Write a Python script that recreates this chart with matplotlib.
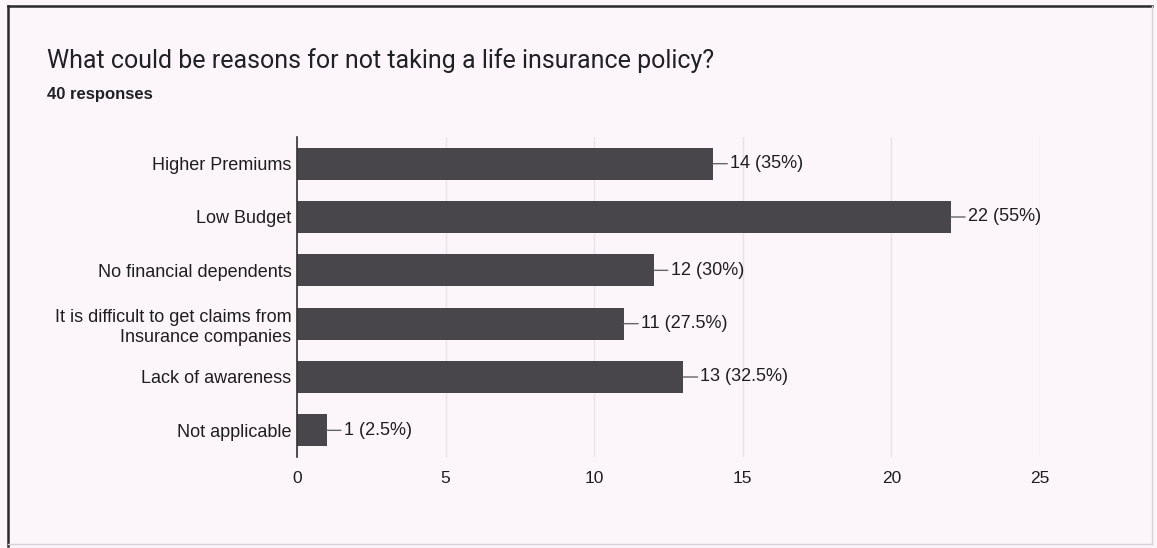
import matplotlib.pyplot as plt
import numpy as np

# data
categories = [
    "Higher Premiums",
    "Low Budget",
    "No financial dependents",
    "It is difficult to get claims from\nInsurance companies",
    "Lack of awareness",
    "Not applicable",
]
counts = [14, 22, 12, 11, 13, 1]
percents = ["35%", "55%", "30%", "27.5%", "32.5%", "2.5%"]
x_ticks = [0, 5, 10, 15, 20, 25]

title = "What could be reasons for not taking a life insurance policy?"
subtitle = "40 responses"

bg = "#fcf6fb"
bar_color = "#48464b"
text_color = "#1e1e1e"
W, H = 1157, 548

fig = plt.figure(figsize=(W / 100, H / 100), dpi=100, facecolor=bg)

# outer card border: dark top/left, faint right/bottom (scan)
fig.add_artist(plt.Line2D([8 / W, 1152 / W], [1 - 6 / H, 1 - 6 / H],
                          transform=fig.transFigure, color="#2a2a2a", lw=1.8))
fig.add_artist(plt.Line2D([8 / W, 8 / W], [1 - 6 / H, 1 - 546 / H],
                          transform=fig.transFigure, color="#2a2a2a", lw=1.8))
fig.add_artist(plt.Line2D([1152 / W, 1152 / W], [1 - 6 / H, 1 - 544 / H],
                          transform=fig.transFigure, color="#d8d2d8", lw=1))
fig.add_artist(plt.Line2D([8 / W, 1152 / W], [1 - 544 / H, 1 - 544 / H],
                          transform=fig.transFigure, color="#d8d2d8", lw=1))

ax = fig.add_axes([297 / W, 1 - 457 / H, 743 / W, 320 / H])
ax.set_facecolor(bg)

y = np.arange(len(categories))
ax.barh(y, counts, height=0.6, color=bar_color, zorder=3)

for yi, c, p in zip(y, counts, percents):
    ax.annotate(f"{c} ({p})", xy=(c, yi), xytext=(17, 0),
                textcoords="offset pixels", ha="left", va="center",
                fontsize=13, color=text_color, family="Liberation Sans",
                arrowprops=dict(arrowstyle="-", color="#666666", lw=1,
                                shrinkA=0, shrinkB=0))

ax.set_ylim(len(categories) - 0.5, -0.5)
ax.set_xlim(0, 25)
ax.set_yticks(y)
ax.set_yticklabels(categories, fontsize=13, color=text_color,
                   family="Liberation Sans", linespacing=1.25)
ax.set_xticks(x_ticks)
ax.set_xticklabels([str(t) for t in x_ticks], fontsize=12.5,
                   color=text_color, family="Liberation Sans")
ax.tick_params(axis="both", length=0)
ax.tick_params(axis="y", pad=4)
ax.tick_params(axis="x", pad=10)

ax.grid(axis="x", color="#e8e2e8", linewidth=1, zorder=0)
for s in ["top", "right", "bottom"]:
    ax.spines[s].set_visible(False)
ax.spines["left"].set_color("#333333")
ax.spines["left"].set_linewidth(1.2)
ax.spines["left"].set_zorder(4)

fig.text(47 / W, 1 - 68 / H, title, fontsize=18, color="#202124",
         family="Roboto", ha="left", va="baseline")
fig.text(47 / W, 1 - 99 / H, subtitle, fontsize=12, color="#202124",
         family="Liberation Sans", fontweight="bold", ha="left",
         va="baseline")

fig.savefig("out.png", dpi=100, facecolor=bg)
